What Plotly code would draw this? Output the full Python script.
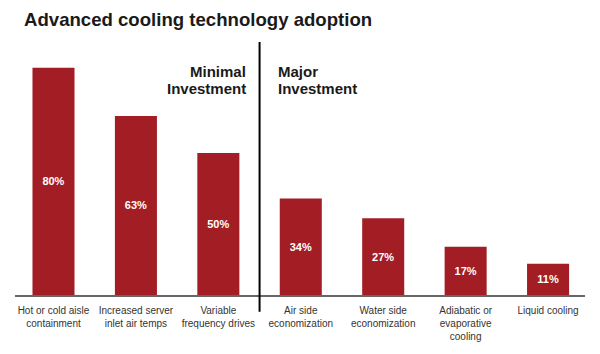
import plotly.graph_objects as go

categories = [
    "Hot or cold aisle<br>containment",
    "Increased server<br>inlet air temps",
    "Variable<br>frequency drives",
    "Air side<br>economization",
    "Water side<br>economization",
    "Adiabatic or<br>evaporative<br>cooling",
    "Liquid cooling",
]
values = [80, 63, 50, 34, 27, 17, 11]
labels = [f"{v}%" for v in values]

BAR = "#A31D25"
FONT = "Liberation Sans, Arial, sans-serif"

fig = go.Figure(
    go.Bar(
        x=list(range(len(categories))),
        y=values,
        text=labels,
        textposition="inside",
        insidetextanchor="middle",
        textangle=0,
        textfont=dict(family=FONT, size=11, color="white", weight="bold"),
        marker=dict(color=BAR, line=dict(width=0)),
        width=0.51,
        hoverinfo="skip",
    )
)

fig.update_layout(
    width=600,
    height=354,
    margin=dict(l=15, r=15, t=40, b=56),
    paper_bgcolor="white",
    plot_bgcolor="white",
    showlegend=False,
    title=dict(
        text="<b>Advanced cooling technology adoption</b>",
        font=dict(family=FONT, size=18.6, color="#1a1a1a"),
        x=24 / 600,
        xanchor="left",
        xref="container",
        y=1 - 19 / 354,
        yanchor="middle",
        yref="container",
    ),
    xaxis=dict(
        range=[-0.467, 6.448],
        tickmode="array",
        tickvals=list(range(len(categories))),
        ticktext=categories,
        ticks="",
        ticklabelstandoff=5,
        showgrid=False,
        zeroline=False,
        showline=True,
        linecolor="#666666",
        linewidth=1.5,
        tickfont=dict(family=FONT, size=10, color="#333333"),
        fixedrange=True,
    ),
    yaxis=dict(
        range=[0, 89.74],
        visible=False,
        showgrid=False,
        zeroline=False,
        fixedrange=True,
    ),
)

fig.add_shape(
    type="line",
    xref="x",
    yref="paper",
    x0=2.5,
    x1=2.5,
    y0=-0.066,
    y1=0.992,
    line=dict(color="black", width=2),
)

ann_font = dict(family=FONT, size=15, color="#1a1a1a", weight="bold")
for txt, ypix, xpix, anchor in [
    ("Minimal", 72, 248, "right"),
    ("Investment", 89, 248, "right"),
    ("Major", 72, 276, "left"),
    ("Investment", 89, 276, "left"),
]:
    fig.add_annotation(
        text=txt,
        xref="x",
        yref="paper",
        x=(xpix - 53.5) / 82.43,
        y=(298 - ypix) / 258,
        xanchor=anchor,
        yanchor="middle",
        showarrow=False,
        font=ann_font,
    )

fig.write_html("out.html")
